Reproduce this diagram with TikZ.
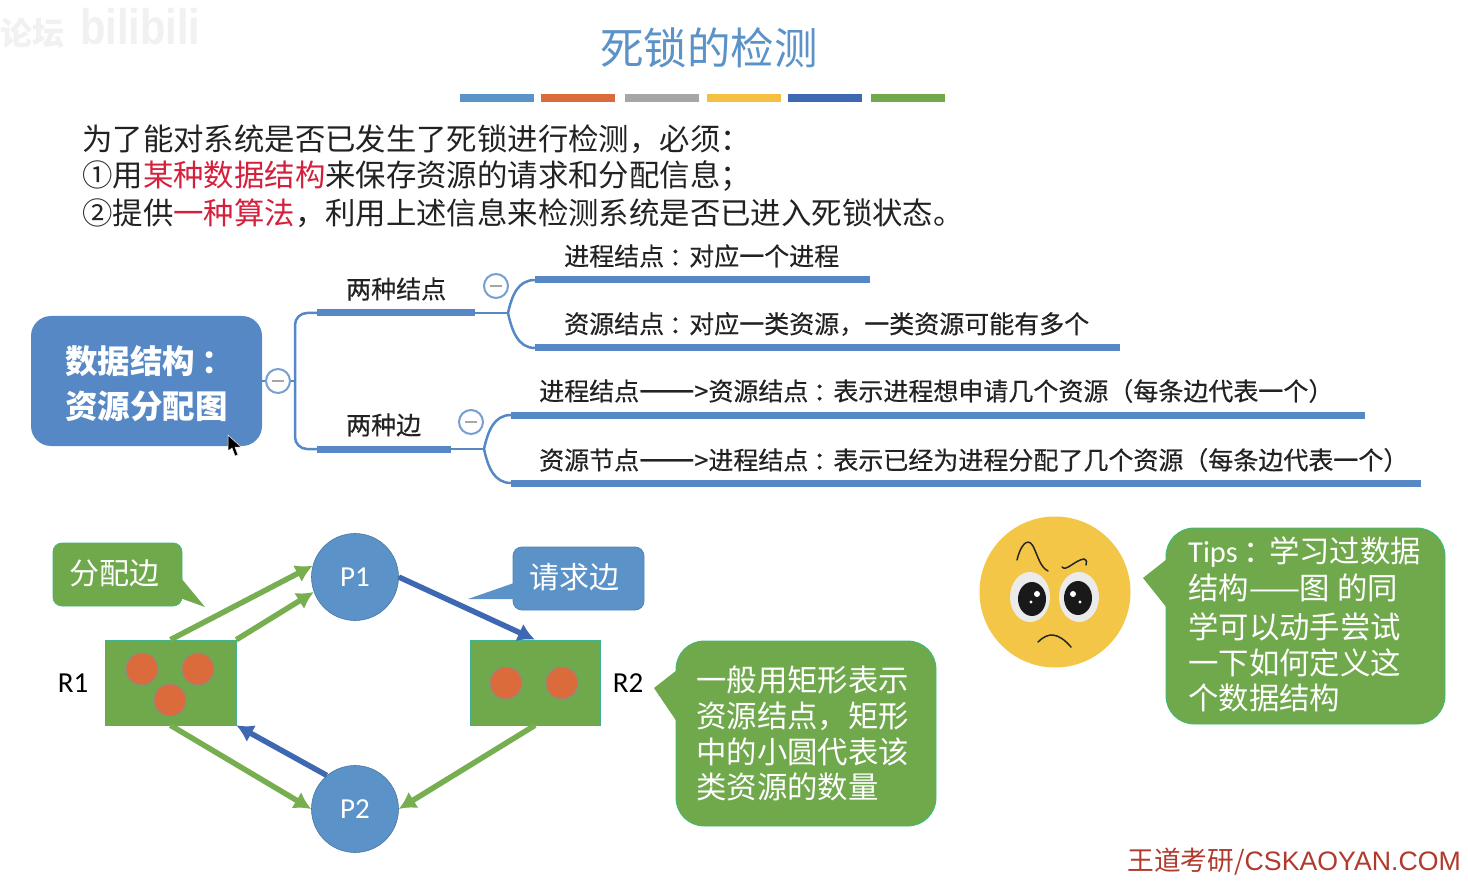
\documentclass[tikz,border=0pt]{standalone}
\usepackage{fontspec}
\setmainfont{Noto Sans CJK SC}
\newfontfamily\cjkm[FakeBold=0.35]{Noto Sans CJK SC}
\newfontfamily\latinf{Carlito}
\newfontfamily\arialf{Liberation Sans}
\usetikzlibrary{arrows.meta,calc}
\definecolor{blueA}{HTML}{5B93C9}
\definecolor{blueB}{HTML}{5588C4}
\definecolor{blueD}{HTML}{3F68B2}
\definecolor{greenA}{HTML}{70A84C}
\definecolor{greenL}{HTML}{76AE50}
\definecolor{orangeA}{HTML}{DC6B3C}
\definecolor{redA}{HTML}{D4203C}
\definecolor{faceY}{HTML}{F4C647}
\definecolor{txt}{HTML}{222222}
\definecolor{wm}{HTML}{F1F1F1}
\definecolor{footc}{HTML}{B03A2E}
\newcommand{\cc}{\hspace{.2em}：\hspace{-.2em}}
\newcommand{\longarrow}{{\fontsize{33}{33}\selectfont ——}>}
\tikzset{
  fs/.style={font=\fontsize{#1}{#1}\selectfont},
  lbl/.style={anchor=west,inner sep=0pt,text=txt,fs=30.4},
  mm/.style={anchor=west,inner sep=0pt,text=txt,font=\cjkm\fontsize{25}{25}\selectfont},
  wt/.style={anchor=west,inner sep=0pt,text=white,fs=30.4},
  rootlbl/.style={anchor=west,inner sep=0pt,text=white,font=\bfseries\fontsize{32.5}{32.5}\selectfont},
  thin link/.style={draw=blueB,line width=2.5pt},
  bar/.style={draw=blueB,line width=7pt},
  collapse/.style={circle,draw=blueB!80,line width=2pt,fill=white,minimum size=24pt,inner sep=0pt},
  proc/.style={circle,fill=blueA,draw=blueA!80!black,line width=.6pt,minimum size=87pt,inner sep=0pt,text=white,font=\latinf\fontsize{29}{29}\selectfont},
  res/.style={rectangle,fill=greenA,draw=blueA!70!green,line width=.6pt,inner sep=0pt},
  dot/.style={circle,fill=orangeA,draw=black!45,line width=.8pt,minimum size=32pt,inner sep=0pt},
  garrow/.style={draw=greenL,line width=5.5pt,-{Latex[length=17pt,width=19pt]}},
  barrow/.style={draw=blueD,line width=5.5pt,-{Latex[length=17pt,width=19pt]}},
  swatch/.style={rectangle,minimum height=8pt,minimum width=74pt,inner sep=0pt},
  callG/.style={fill=greenA,draw=blueA!60!green,line width=.8pt},
  callB/.style={fill=blueA,draw=blueA!90!black,line width=.8pt},
}
\begin{document}
\begin{tikzpicture}[x=1pt,y=-1pt]
\useasboundingbox (0,0) rectangle (1468,885);
\fill[white] (0,0) rectangle (1468,885);
% watermark
\node[anchor=west,inner sep=0pt,text=wm,font=\bfseries\fontsize{32}{32}\selectfont] (wm1) at (0,33) {论坛};
\node[anchor=west,inner sep=0pt,text=wm,xscale=.83,font=\arialf\bfseries\fontsize{50}{50}\selectfont] (wm2) at (80,27) {bilibili};
% title
\node[inner sep=0pt,text=blueA,fs=43.5] (title) at (709,48) {死锁的检测};
\node[swatch,fill=blueA] (s1) at (497,98) {};
\node[swatch,fill=orangeA] (s2) at (578,98) {};
\node[swatch,fill=black!35] (s3) at (662,98) {};
\node[swatch,fill=faceY!90!orange] (s4) at (744,98) {};
\node[swatch,fill=blueD] (s5) at (825,98) {};
\node[swatch,fill=greenA] (s6) at (908,98) {};
% intro
\node[lbl] (l1) at (82,139) {为了能对系统是否已发生了死锁进行检测，必须：};
\node[lbl] (l2) at (82,176) {①用\textcolor{redA}{某种数据结构}来保存资源的请求和分配信息；};
\node[lbl] (l3) at (82,213) {②提供\textcolor{redA}{一种算法}，利用上述信息来检测系统是否已进入死锁状态。};
% mind map
\node[rectangle,rounded corners=20pt,fill=blueB,minimum width=231pt,minimum height=130pt,inner sep=0pt] (root) at (146.5,381) {};
\node[rootlbl] (root1) at (65,361) {数据结构\cc};
\node[rootlbl] (root2) at (65,406) {资源分配图};
\node[collapse] (c0) at (278,381) {};
\node[collapse] (c1) at (496,286) {};
\node[collapse] (c2) at (471,422) {};
\foreach \c in {c0,c1,c2} \fill[black!35] ($(\c)+(-6,-1.2)$) rectangle ($(\c)+(6,1.2)$);
\coordinate (a1) at (317,313);\coordinate (a2) at (475,313);\coordinate (a3) at (508,313);
\coordinate (b1) at (317,449);\coordinate (b2) at (451,449);\coordinate (b3) at (484,449);
\coordinate (u1) at (535,280);\coordinate (u2) at (870,280);
\coordinate (v1) at (535,348);\coordinate (v2) at (1120,348);
\coordinate (w1) at (511,415);\coordinate (w2) at (1365,415);
\coordinate (z1) at (511,483);\coordinate (z2) at (1421,483);
\draw[thin link] (root.east) -- (c0.west);
\draw[thin link,rounded corners=12pt] (a1) -- (295,313) -- (295,449) -- (b1);
\draw[thin link] (c0.east) -- (295,381);
\draw[bar] (a1) -- (a2);
\draw[bar] (b1) -- (b2);
\draw[thin link] (a2) -- (a3);
\draw[thin link] (b2) -- (b3);
\draw[thin link] (a3) .. controls (512,295) and (518,280) .. (u1);
\draw[thin link] (a3) .. controls (512,331) and (518,348) .. (v1);
\draw[thin link] (b3) .. controls (488,431) and (494,415) .. (w1);
\draw[thin link] (b3) .. controls (488,467) and (494,483) .. (z1);
\draw[bar] (u1) -- (u2);
\draw[bar] (v1) -- (v2);
\draw[bar] (w1) -- (w2);
\draw[bar] (z1) -- (z2);
\node[mm] (m1) at (346,289) {两种结点};
\node[mm] (m2) at (346,425) {两种边};
\node[mm] (n1) at (564,256) {进程结点\cc 对应一个进程};
\node[mm] (n2) at (564,324) {资源结点\cc 对应一类资源，一类资源可能有多个};
\node[mm] (n3) at (539,391) {进程结点\longarrow 资源结点\cc 表示进程想申请几个资源（每条边代表一个）};
\node[mm] (n4) at (539,460) {资源节点\longarrow 进程结点\cc 表示已经为进程分配了几个资源（每条边代表一个）};
% cursor
\fill[black,draw=white,line width=.5pt] (228,435) -- (228,451) -- (232,448) -- (235,456) -- (238,455) -- (235,447) -- (241,447) -- cycle;
% graph
\node[res,minimum width=131pt,minimum height=85pt] (R1) at (170.5,682.5) {};
\node[res,minimum width=130pt,minimum height=85pt] (R2) at (535,682.5) {};
\node[proc] (P1) at (355,577) {P1};
\node[proc] (P2) at (355,809) {P2};
\node[dot] (d1) at (142,669) {};
\node[dot] (d2) at (198,669) {};
\node[dot] (d3) at (170,700) {};
\node[dot] (d4) at (506,683) {};
\node[dot] (d5) at (562,683) {};
\node[inner sep=0pt,text=black,font=\latinf\fontsize{29}{29}\selectfont] (r1l) at (73,683) {R1};
\node[inner sep=0pt,text=black,font=\latinf\fontsize{29}{29}\selectfont] (r2l) at (628,683) {R2};
\draw[garrow] (R1.north) -- (P1.165);
\draw[garrow] (R1.north east) -- (P1.200);
\draw[barrow] (P1.east) -- (R2.north);
\draw[barrow] (P2.130) -- (R1.south east);
\draw[garrow] (R1.south) -- (P2.west);
\draw[garrow] (R2.south) -- (P2.east);
% callouts
\draw[callG,rounded corners=9pt] (53,543) -- (182,543) -- (182,606) -- (53,606) -- cycle;
\fill[greenA] (181,578) -- (205,607) -- (180,598) -- cycle;
\node[wt,fs=30] (t1) at (69,573) {分配边};
\draw[callB,rounded corners=9pt] (513,547) -- (644,547) -- (644,610) -- (513,610) -- cycle;
\fill[blueA] (514,583) -- (468,599) -- (514,599) -- cycle;
\node[wt,fs=30] (t2) at (529,577) {请求边};
\draw[callG,rounded corners=28pt] (676,641) -- (936,641) -- (936,826) -- (676,826) -- cycle;
\fill[greenA] (677,670) -- (654,688) -- (677,722) -- cycle;
\node[wt] (b1l) at (696,680) {一般用矩形表示};
\node[wt] (b2l) at (696,716) {资源结点，矩形};
\node[wt] (b3l) at (696,752) {中的小圆代表该};
\node[wt] (b4l) at (696,787) {类资源的数量};
\draw[callG,rounded corners=28pt] (1166,528) -- (1445,528) -- (1445,724) -- (1166,724) -- cycle;
\fill[greenA] (1167,559) -- (1143,578) -- (1167,608) -- cycle;
\node[wt] (c1l) at (1188,552) {{\latinf Tips}\cc\hspace{1pt}学习过数据};
\node[wt] (c2l) at (1188,588) {结构——图 的同};
\node[wt] (c3l) at (1188,627) {学可以动手尝试};
\node[wt] (c4l) at (1188,663) {一下如何定义这};
\node[wt] (c5l) at (1188,698) {个数据结构};
% face
\fill[faceY] (1055,592) circle (75.5);
\fill[white!92!black] (1030,597) ellipse (20 and 25);
\fill[white!92!black] (1079,597) ellipse (20 and 25);
\fill[black!90] (1032,599) ellipse (14 and 17);
\fill[black!90] (1078,598) ellipse (14 and 17);
\fill[white] (1037,594) circle (3); \fill[white] (1031,602) circle (1.6);
\fill[white] (1073,594) circle (3); \fill[white] (1080,602) circle (1.6);
\draw[black!85,line width=1.5pt,line cap=round] (1017,560) .. controls (1020,547) and (1027,536) .. (1033,546) .. controls (1038,556) and (1040,567) .. (1048,571);
\draw[black!85,line width=1.5pt,line cap=round] (1062,567) .. controls (1066,572) and (1075,560) .. (1084,559) .. controls (1087,560) and (1087,563) .. (1086,565);
\draw[black!85,line width=1.5pt,line cap=round] (1038,642) .. controls (1048,632) and (1058,632) .. (1071,647);
% footer
\node[anchor=east,inner sep=0pt,text=footc,font=\fontsize{26.7}{27}\selectfont] (foot) at (1461,862) {王道考研/{\arialf CSKAOYAN.COM}};
\end{tikzpicture}
\end{document}
